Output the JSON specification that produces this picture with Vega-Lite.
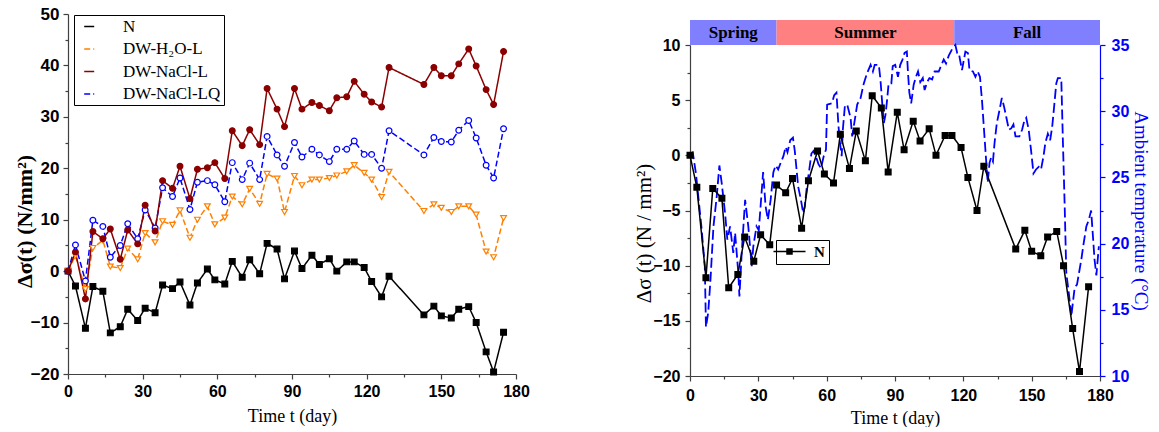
{
  "$schema": "https://vega.github.io/schema/vega-lite/v6.json",
  "background": "white",
  "padding": {"left": 13, "top": 5, "right": 8, "bottom": 0},
  "config": {
    "view": {"stroke": null},
    "axis": {
      "labelFont": "Liberation Sans", "labelFontWeight": "bold", "labelFontSize": 16, "labelColor": "black",
      "labelFlush": false, "labelOverlap": false,
      "titleFont": "Liberation Serif", "titleFontWeight": "normal", "titleFontSize": 18, "titleColor": "black",
      "domainColor": "#404040", "tickColor": "#404040", "domainWidth": 1.2, "tickWidth": 1.2,
      "tickSize": 5, "labelPadding": 4, "grid": false
    },
    "legend": {"labelFont": "Liberation Serif", "labelColor": "black"}
  },
  "datasets": {
    "stress": [
      {"day": 0, "series": "N", "value": 0}, {"day": 3, "series": "N", "value": -2.9}, {"day": 7, "series": "N", "value": -11.1},
      {"day": 10, "series": "N", "value": -3.0}, {"day": 14, "series": "N", "value": -3.9}, {"day": 17, "series": "N", "value": -12.0},
      {"day": 21, "series": "N", "value": -10.8}, {"day": 24, "series": "N", "value": -7.4}, {"day": 28, "series": "N", "value": -9.6},
      {"day": 31, "series": "N", "value": -7.2}, {"day": 35, "series": "N", "value": -8.1}, {"day": 38, "series": "N", "value": -2.7},
      {"day": 42, "series": "N", "value": -3.4}, {"day": 45, "series": "N", "value": -2.1}, {"day": 49, "series": "N", "value": -6.6},
      {"day": 52, "series": "N", "value": -2.3}, {"day": 56, "series": "N", "value": 0.4}, {"day": 59, "series": "N", "value": -1.7},
      {"day": 63, "series": "N", "value": -2.5}, {"day": 66, "series": "N", "value": 1.9}, {"day": 70, "series": "N", "value": -1.2},
      {"day": 73, "series": "N", "value": 2.2}, {"day": 77, "series": "N", "value": -0.5}, {"day": 80, "series": "N", "value": 5.4},
      {"day": 84, "series": "N", "value": 4.3}, {"day": 87, "series": "N", "value": -1.5}, {"day": 91, "series": "N", "value": 3.9},
      {"day": 94, "series": "N", "value": 0.5}, {"day": 98, "series": "N", "value": 3.1}, {"day": 101, "series": "N", "value": 1.3},
      {"day": 105, "series": "N", "value": 2.4}, {"day": 108, "series": "N", "value": 0.0}, {"day": 112, "series": "N", "value": 1.8},
      {"day": 115, "series": "N", "value": 1.8}, {"day": 119, "series": "N", "value": 0.7}, {"day": 122, "series": "N", "value": -2.0},
      {"day": 126, "series": "N", "value": -5.0}, {"day": 129, "series": "N", "value": -1.0}, {"day": 143, "series": "N", "value": -8.5},
      {"day": 147, "series": "N", "value": -6.8}, {"day": 150, "series": "N", "value": -8.7}, {"day": 154, "series": "N", "value": -9.1},
      {"day": 157, "series": "N", "value": -7.4}, {"day": 161, "series": "N", "value": -6.9}, {"day": 164, "series": "N", "value": -10.0},
      {"day": 168, "series": "N", "value": -15.7}, {"day": 171, "series": "N", "value": -19.6}, {"day": 175, "series": "N", "value": -11.9},

      {"day": 0, "series": "DW-H₂O-L", "value": 0}, {"day": 3, "series": "DW-H₂O-L", "value": 3.0}, {"day": 7, "series": "DW-H₂O-L", "value": -3.5},
      {"day": 10, "series": "DW-H₂O-L", "value": 4.5}, {"day": 14, "series": "DW-H₂O-L", "value": 6.0}, {"day": 17, "series": "DW-H₂O-L", "value": 0.9},
      {"day": 21, "series": "DW-H₂O-L", "value": 0.6}, {"day": 24, "series": "DW-H₂O-L", "value": 4.4}, {"day": 28, "series": "DW-H₂O-L", "value": 2.3},
      {"day": 31, "series": "DW-H₂O-L", "value": 7.4}, {"day": 35, "series": "DW-H₂O-L", "value": 5.6}, {"day": 38, "series": "DW-H₂O-L", "value": 9.7},
      {"day": 42, "series": "DW-H₂O-L", "value": 9.0}, {"day": 45, "series": "DW-H₂O-L", "value": 11.8}, {"day": 49, "series": "DW-H₂O-L", "value": 6.5},
      {"day": 52, "series": "DW-H₂O-L", "value": 10.0}, {"day": 56, "series": "DW-H₂O-L", "value": 12.6}, {"day": 59, "series": "DW-H₂O-L", "value": 9.1},
      {"day": 63, "series": "DW-H₂O-L", "value": 10.4}, {"day": 66, "series": "DW-H₂O-L", "value": 14.5}, {"day": 70, "series": "DW-H₂O-L", "value": 13.0},
      {"day": 73, "series": "DW-H₂O-L", "value": 16.0}, {"day": 77, "series": "DW-H₂O-L", "value": 13.1}, {"day": 80, "series": "DW-H₂O-L", "value": 18.9},
      {"day": 84, "series": "DW-H₂O-L", "value": 18.0}, {"day": 87, "series": "DW-H₂O-L", "value": 11.5}, {"day": 91, "series": "DW-H₂O-L", "value": 18.5},
      {"day": 94, "series": "DW-H₂O-L", "value": 16.7}, {"day": 98, "series": "DW-H₂O-L", "value": 17.8}, {"day": 101, "series": "DW-H₂O-L", "value": 17.8},
      {"day": 105, "series": "DW-H₂O-L", "value": 18.1}, {"day": 108, "series": "DW-H₂O-L", "value": 18.6}, {"day": 112, "series": "DW-H₂O-L", "value": 19.4},
      {"day": 115, "series": "DW-H₂O-L", "value": 20.6}, {"day": 119, "series": "DW-H₂O-L", "value": 19.1}, {"day": 122, "series": "DW-H₂O-L", "value": 17.8},
      {"day": 126, "series": "DW-H₂O-L", "value": 14.4}, {"day": 129, "series": "DW-H₂O-L", "value": 19.3}, {"day": 143, "series": "DW-H₂O-L", "value": 11.7},
      {"day": 147, "series": "DW-H₂O-L", "value": 13.0}, {"day": 150, "series": "DW-H₂O-L", "value": 12.3}, {"day": 154, "series": "DW-H₂O-L", "value": 11.5},
      {"day": 157, "series": "DW-H₂O-L", "value": 12.6}, {"day": 161, "series": "DW-H₂O-L", "value": 12.6}, {"day": 164, "series": "DW-H₂O-L", "value": 11.0},
      {"day": 168, "series": "DW-H₂O-L", "value": 3.8}, {"day": 171, "series": "DW-H₂O-L", "value": 2.7}, {"day": 175, "series": "DW-H₂O-L", "value": 10.3},

      {"day": 0, "series": "DW-NaCl-LQ", "value": 0}, {"day": 3, "series": "DW-NaCl-LQ", "value": 5.1}, {"day": 7, "series": "DW-NaCl-LQ", "value": -1.9},
      {"day": 10, "series": "DW-NaCl-LQ", "value": 9.9}, {"day": 14, "series": "DW-NaCl-LQ", "value": 8.7}, {"day": 17, "series": "DW-NaCl-LQ", "value": 2.7},
      {"day": 21, "series": "DW-NaCl-LQ", "value": 5.0}, {"day": 24, "series": "DW-NaCl-LQ", "value": 9.2}, {"day": 28, "series": "DW-NaCl-LQ", "value": 6.3},
      {"day": 31, "series": "DW-NaCl-LQ", "value": 11.9}, {"day": 35, "series": "DW-NaCl-LQ", "value": 8.4}, {"day": 38, "series": "DW-NaCl-LQ", "value": 16.2},
      {"day": 42, "series": "DW-NaCl-LQ", "value": 14.5}, {"day": 45, "series": "DW-NaCl-LQ", "value": 18.1}, {"day": 49, "series": "DW-NaCl-LQ", "value": 12.0},
      {"day": 52, "series": "DW-NaCl-LQ", "value": 17.3}, {"day": 56, "series": "DW-NaCl-LQ", "value": 17.6}, {"day": 59, "series": "DW-NaCl-LQ", "value": 16.8},
      {"day": 63, "series": "DW-NaCl-LQ", "value": 13.5}, {"day": 66, "series": "DW-NaCl-LQ", "value": 21.1}, {"day": 70, "series": "DW-NaCl-LQ", "value": 17.8},
      {"day": 73, "series": "DW-NaCl-LQ", "value": 21.0}, {"day": 77, "series": "DW-NaCl-LQ", "value": 17.8}, {"day": 80, "series": "DW-NaCl-LQ", "value": 26.2},
      {"day": 84, "series": "DW-NaCl-LQ", "value": 22.6}, {"day": 87, "series": "DW-NaCl-LQ", "value": 20.4}, {"day": 91, "series": "DW-NaCl-LQ", "value": 25.0},
      {"day": 94, "series": "DW-NaCl-LQ", "value": 22.2}, {"day": 98, "series": "DW-NaCl-LQ", "value": 23.7}, {"day": 101, "series": "DW-NaCl-LQ", "value": 22.6},
      {"day": 105, "series": "DW-NaCl-LQ", "value": 21.3}, {"day": 108, "series": "DW-NaCl-LQ", "value": 23.7}, {"day": 112, "series": "DW-NaCl-LQ", "value": 23.7},
      {"day": 115, "series": "DW-NaCl-LQ", "value": 25.3}, {"day": 119, "series": "DW-NaCl-LQ", "value": 22.7}, {"day": 122, "series": "DW-NaCl-LQ", "value": 22.7},
      {"day": 126, "series": "DW-NaCl-LQ", "value": 20.0}, {"day": 129, "series": "DW-NaCl-LQ", "value": 27.3}, {"day": 143, "series": "DW-NaCl-LQ", "value": 22.6},
      {"day": 147, "series": "DW-NaCl-LQ", "value": 26.0}, {"day": 150, "series": "DW-NaCl-LQ", "value": 25.2}, {"day": 154, "series": "DW-NaCl-LQ", "value": 25.1},
      {"day": 157, "series": "DW-NaCl-LQ", "value": 27.4}, {"day": 161, "series": "DW-NaCl-LQ", "value": 29.3}, {"day": 164, "series": "DW-NaCl-LQ", "value": 25.9},
      {"day": 168, "series": "DW-NaCl-LQ", "value": 20.6}, {"day": 171, "series": "DW-NaCl-LQ", "value": 18.1}, {"day": 175, "series": "DW-NaCl-LQ", "value": 27.7},

      {"day": 0, "series": "DW-NaCl-L", "value": 0}, {"day": 3, "series": "DW-NaCl-L", "value": 3.7}, {"day": 7, "series": "DW-NaCl-L", "value": -5.4},
      {"day": 10, "series": "DW-NaCl-L", "value": 7.7}, {"day": 14, "series": "DW-NaCl-L", "value": 6.3}, {"day": 17, "series": "DW-NaCl-L", "value": 8.2},
      {"day": 21, "series": "DW-NaCl-L", "value": 2.3}, {"day": 24, "series": "DW-NaCl-L", "value": 8.0}, {"day": 28, "series": "DW-NaCl-L", "value": 5.3},
      {"day": 31, "series": "DW-NaCl-L", "value": 12.8}, {"day": 35, "series": "DW-NaCl-L", "value": 7.8}, {"day": 38, "series": "DW-NaCl-L", "value": 17.6},
      {"day": 42, "series": "DW-NaCl-L", "value": 16.1}, {"day": 45, "series": "DW-NaCl-L", "value": 20.4}, {"day": 49, "series": "DW-NaCl-L", "value": 14.1},
      {"day": 52, "series": "DW-NaCl-L", "value": 19.8}, {"day": 56, "series": "DW-NaCl-L", "value": 20.1}, {"day": 59, "series": "DW-NaCl-L", "value": 21.1},
      {"day": 63, "series": "DW-NaCl-L", "value": 18.0}, {"day": 66, "series": "DW-NaCl-L", "value": 27.3}, {"day": 70, "series": "DW-NaCl-L", "value": 24.4},
      {"day": 73, "series": "DW-NaCl-L", "value": 27.5}, {"day": 77, "series": "DW-NaCl-L", "value": 24.6}, {"day": 80, "series": "DW-NaCl-L", "value": 35.5},
      {"day": 84, "series": "DW-NaCl-L", "value": 31.5}, {"day": 87, "series": "DW-NaCl-L", "value": 28.1}, {"day": 91, "series": "DW-NaCl-L", "value": 35.5},
      {"day": 94, "series": "DW-NaCl-L", "value": 31.5}, {"day": 98, "series": "DW-NaCl-L", "value": 32.8}, {"day": 101, "series": "DW-NaCl-L", "value": 32.2},
      {"day": 105, "series": "DW-NaCl-L", "value": 31.2}, {"day": 108, "series": "DW-NaCl-L", "value": 33.7}, {"day": 112, "series": "DW-NaCl-L", "value": 33.9},
      {"day": 115, "series": "DW-NaCl-L", "value": 36.9}, {"day": 119, "series": "DW-NaCl-L", "value": 34.4}, {"day": 122, "series": "DW-NaCl-L", "value": 32.9},
      {"day": 126, "series": "DW-NaCl-L", "value": 31.9}, {"day": 129, "series": "DW-NaCl-L", "value": 39.6}, {"day": 143, "series": "DW-NaCl-L", "value": 36.3},
      {"day": 147, "series": "DW-NaCl-L", "value": 39.6}, {"day": 150, "series": "DW-NaCl-L", "value": 38.0}, {"day": 154, "series": "DW-NaCl-L", "value": 38.0},
      {"day": 157, "series": "DW-NaCl-L", "value": 40.3}, {"day": 161, "series": "DW-NaCl-L", "value": 43.2}, {"day": 164, "series": "DW-NaCl-L", "value": 39.9},
      {"day": 168, "series": "DW-NaCl-L", "value": 35.3}, {"day": 171, "series": "DW-NaCl-L", "value": 32.4}, {"day": 175, "series": "DW-NaCl-L", "value": 42.7}
    ],
    "temp": [
      {"day": 0, "temp": 26.8}, {"day": 1.2, "temp": 26.9}, {"day": 2.6, "temp": 25.3}, {"day": 5, "temp": 21.3}, {"day": 6.5, "temp": 18.3},
      {"day": 7, "temp": 13.7}, {"day": 8, "temp": 14.8}, {"day": 9, "temp": 17.3}, {"day": 10.3, "temp": 21.3}, {"day": 11.7, "temp": 23.5},
      {"day": 12.9, "temp": 25.9}, {"day": 13.9, "temp": 24.6}, {"day": 15.4, "temp": 22.3}, {"day": 16.4, "temp": 20.3}, {"day": 17.6, "temp": 21.3},
      {"day": 19, "temp": 19.3}, {"day": 19.8, "temp": 20.8}, {"day": 21.2, "temp": 17.8}, {"day": 21.7, "temp": 16.0}, {"day": 22.7, "temp": 19.3},
      {"day": 24.2, "temp": 23.3}, {"day": 25.6, "temp": 21.3}, {"day": 27.1, "temp": 18.3}, {"day": 27.8, "temp": 19.8}, {"day": 29.2, "temp": 21.3},
      {"day": 30.2, "temp": 21.0}, {"day": 32.1, "temp": 25.4}, {"day": 33.2, "temp": 22.8}, {"day": 34.2, "temp": 21.8}, {"day": 35.4, "temp": 23.3},
      {"day": 36.6, "temp": 25.4}, {"day": 37.6, "temp": 25.9}, {"day": 38.7, "temp": 25.6}, {"day": 39.8, "temp": 26.1}, {"day": 41, "temp": 26.6},
      {"day": 42, "temp": 27.3}, {"day": 42.8, "temp": 26.9}, {"day": 44, "temp": 27.8}, {"day": 45.2, "temp": 28.0}, {"day": 46, "temp": 27.0},
      {"day": 47.5, "temp": 24.3}, {"day": 48.7, "temp": 23.3}, {"day": 49.7, "temp": 22.3}, {"day": 50.4, "temp": 22.8}, {"day": 51.3, "temp": 24.3},
      {"day": 52.3, "temp": 25.5}, {"day": 53.3, "temp": 26.8}, {"day": 54.2, "temp": 27.0}, {"day": 55.2, "temp": 26.6}, {"day": 56.4, "temp": 26.0},
      {"day": 57.5, "temp": 25.7}, {"day": 58.7, "temp": 26.6}, {"day": 59.7, "temp": 27.1}, {"day": 60.2, "temp": 30.5}, {"day": 62.3, "temp": 30.6},
      {"day": 63.3, "temp": 31.2}, {"day": 64.3, "temp": 31.4}, {"day": 65.1, "temp": 29.1}, {"day": 65.7, "temp": 27.8}, {"day": 66.6, "temp": 26.6},
      {"day": 67.1, "temp": 28.6}, {"day": 68, "temp": 30.4}, {"day": 69, "temp": 30.5}, {"day": 70.5, "temp": 29.5}, {"day": 71.2, "temp": 28.1},
      {"day": 72.4, "temp": 29.4}, {"day": 73.4, "temp": 30.5}, {"day": 74.9, "temp": 31.0}, {"day": 76.3, "temp": 32.1}, {"day": 77.8, "temp": 32.9},
      {"day": 79.3, "temp": 33.5}, {"day": 80.3, "temp": 33.0}, {"day": 81.1, "temp": 33.5}, {"day": 82.9, "temp": 33.5}, {"day": 83.6, "temp": 32.4},
      {"day": 84.3, "temp": 30.8}, {"day": 85.1, "temp": 29.1}, {"day": 85.8, "temp": 29.7}, {"day": 86.5, "temp": 30.8}, {"day": 87.2, "temp": 32.1},
      {"day": 88.4, "temp": 32.1}, {"day": 89, "temp": 33.4}, {"day": 90.1, "temp": 33.5}, {"day": 91.3, "temp": 32.6}, {"day": 92.3, "temp": 33.5},
      {"day": 93.3, "temp": 33.9}, {"day": 94.2, "temp": 34.4}, {"day": 95.2, "temp": 34.5}, {"day": 95.7, "temp": 32.9}, {"day": 96.3, "temp": 31.4},
      {"day": 97.1, "temp": 30.6}, {"day": 98.2, "temp": 32.0}, {"day": 99.2, "temp": 32.6}, {"day": 100.1, "temp": 33.0}, {"day": 101.1, "temp": 32.2},
      {"day": 102.2, "temp": 32.5}, {"day": 103, "temp": 31.6}, {"day": 104.1, "temp": 32.2}, {"day": 105.1, "temp": 32.5}, {"day": 106.3, "temp": 32.4},
      {"day": 107.4, "temp": 33.0}, {"day": 109.2, "temp": 33.0}, {"day": 110.4, "temp": 33.5}, {"day": 111.4, "temp": 33.9}, {"day": 112.4, "temp": 33.6},
      {"day": 113.6, "temp": 34.2}, {"day": 115.1, "temp": 34.7}, {"day": 116.5, "temp": 35.0}, {"day": 117.3, "temp": 34.4}, {"day": 118, "temp": 34.4},
      {"day": 119.4, "temp": 33.1}, {"day": 120.9, "temp": 34.5}, {"day": 122, "temp": 34.4}, {"day": 122.7, "temp": 33.1}, {"day": 124.2, "temp": 33.0},
      {"day": 125.3, "temp": 32.6}, {"day": 126.3, "temp": 33.0}, {"day": 127.3, "temp": 32.6}, {"day": 128.2, "temp": 30.8}, {"day": 129.2, "temp": 28.3},
      {"day": 130, "temp": 26.3}, {"day": 130.7, "temp": 24.6}, {"day": 131.5, "temp": 26.1}, {"day": 132.2, "temp": 26.5}, {"day": 133, "temp": 26.2},
      {"day": 133.7, "temp": 27.6}, {"day": 134.7, "temp": 29.1}, {"day": 135.9, "temp": 30.1}, {"day": 136.9, "temp": 31.0}, {"day": 137.8, "temp": 30.4},
      {"day": 138.8, "temp": 29.6}, {"day": 140, "temp": 28.6}, {"day": 141, "temp": 28.7}, {"day": 142, "temp": 29.0}, {"day": 142.9, "temp": 28.1},
      {"day": 144.6, "temp": 28.1}, {"day": 145.8, "temp": 28.6}, {"day": 146.8, "temp": 29.3}, {"day": 147.6, "temp": 29.5}, {"day": 148.7, "temp": 28.6},
      {"day": 149.7, "temp": 27.1}, {"day": 150.8, "temp": 25.3}, {"day": 151.9, "temp": 25.6}, {"day": 153.1, "temp": 25.8}, {"day": 154.1, "temp": 25.6},
      {"day": 155.2, "temp": 26.6}, {"day": 156, "temp": 27.6}, {"day": 157.1, "temp": 28.3}, {"day": 158.1, "temp": 27.8}, {"day": 159, "temp": 28.8},
      {"day": 160, "temp": 30.6}, {"day": 160.8, "temp": 32.1}, {"day": 161.5, "temp": 32.5}, {"day": 163, "temp": 32.5}, {"day": 163.7, "temp": 27.8},
      {"day": 164.5, "temp": 22.8}, {"day": 165.2, "temp": 17.8}, {"day": 166.7, "temp": 15.7}, {"day": 167.4, "temp": 14.5}, {"day": 168.2, "temp": 15.7},
      {"day": 168.9, "temp": 16.7}, {"day": 169.9, "temp": 16.9}, {"day": 170.8, "temp": 17.8}, {"day": 171.8, "temp": 18.8}, {"day": 172.8, "temp": 20.0},
      {"day": 174, "temp": 21.3}, {"day": 175.1, "temp": 21.8}, {"day": 176.1, "temp": 22.5}, {"day": 176.8, "temp": 20.8}, {"day": 177.6, "temp": 18.8},
      {"day": 178.4, "temp": 17.6}, {"day": 179.5, "temp": 19.8}
    ],
    "seasons": [
      {"season": "Spring", "start": 0, "end": 38},
      {"season": "Summer", "start": 38, "end": 116},
      {"season": "Fall", "start": 116, "end": 180}
    ]
  },
  "bounds": "flush",
  "spacing": 174,
  "resolve": {
    "scale": {"color": "independent", "fill": "independent", "stroke": "independent", "shape": "independent", "size": "independent", "strokeDash": "independent"}
  },
  "hconcat": [
    {
      "width": 448,
      "height": 360,
      "data": {"name": "stress"},
      "layer": [
        {
          "mark": {"type": "line", "strokeWidth": 1.5},
          "encoding": {
            "x": {"field": "day", "type": "quantitative", "scale": {"domain": [0, 180], "nice": false},
                  "axis": {"orient": "bottom", "values": [0, 30, 60, 90, 120, 150, 180], "title": "Time t (day)", "titlePadding": 8}},
            "y": {"field": "value", "type": "quantitative", "scale": {"domain": [-20, 50], "nice": false},
                  "axis": {"orient": "left", "values": [-20, -10, 0, 10, 20, 30, 40, 50], "title": "Δσ(t)  (N/mm²)",
                           "titleFontWeight": "bold", "titleFontSize": 22, "titlePadding": -6, "titleY": 207, "labelFontSize": 17}},
            "color": {"field": "series", "type": "nominal",
                      "scale": {"domain": ["N", "DW-H₂O-L", "DW-NaCl-L", "DW-NaCl-LQ"], "range": ["black", "#ff8000", "#8b0000", "#0000ff"]},
                      "legend": {
                        "title": null, "orient": "none", "legendX": 6, "legendY": 1,
                        "strokeColor": "black", "fillColor": "white", "padding": 3,
                        "symbolSize": 100, "symbolStrokeWidth": 1.5, "symbolOpacity": 1,
                        "symbolOffset": 3.7, "labelOffset": 25.3, "rowPadding": 4.5,
                        "labelFont": "Liberation Serif", "labelFontSize": 17, "labelFontWeight": "normal", "labelColor": "black"
                      }},
            "strokeDash": {"field": "series", "type": "nominal",
                           "scale": {"domain": ["N", "DW-H₂O-L", "DW-NaCl-L", "DW-NaCl-LQ"], "range": [[1, 0], [6, 3], [1, 0], [6, 3]]},
                           "legend": null}
          }
        },
        {
          "mark": {"type": "point", "strokeWidth": 1.2, "opacity": 1},
          "encoding": {
            "x": {"field": "day", "type": "quantitative", "scale": {"domain": [0, 180], "nice": false},
                  "axis": {"orient": "bottom", "values": [15, 45, 75, 105, 135, 165], "labels": false, "tickSize": 3, "domain": false, "title": null}},
            "y": {"field": "value", "type": "quantitative", "scale": {"domain": [-20, 50], "nice": false},
                  "axis": {"orient": "left", "values": [-15, -5, 5, 15, 25, 35, 45], "labels": false, "tickSize": 3, "domain": false, "title": null}},
            "size": {"field": "series", "type": "nominal",
                     "scale": {"domain": ["DW-NaCl-LQ", "DW-NaCl-L", "DW-H₂O-L", "N"], "range": [33, 33, 40, 25]},
                     "legend": null},
            "fill": {"field": "series", "type": "nominal",
                     "scale": {"domain": ["DW-NaCl-LQ", "DW-NaCl-L", "DW-H₂O-L", "N"], "range": ["white", "#8b0000", "white", "black"]},
                     "legend": null},
            "stroke": {"field": "series", "type": "nominal",
                       "scale": {"domain": ["DW-NaCl-LQ", "DW-NaCl-L", "DW-H₂O-L", "N"], "range": ["#0000ff", "#8b0000", "#ff8000", "black"]},
                       "legend": null},
            "shape": {"field": "series", "type": "nominal",
                      "scale": {"domain": ["DW-NaCl-LQ", "DW-NaCl-L", "DW-H₂O-L", "N"], "range": ["circle", "circle", "triangle-down", "square"]},
                      "legend": null}
          }
        },
        {
          "mark": {"type": "point", "opacity": 0},
          "encoding": {
            "x": {"field": "day", "type": "quantitative", "scale": {"domain": [0, 180], "nice": false}, "axis": null},
            "y": {"field": "value", "type": "quantitative", "scale": {"domain": [-20, 50], "nice": false}, "axis": null},
            "shape": {"field": "series", "type": "nominal",
                      "scale": {"domain": ["N", "DW-H₂O-L", "DW-NaCl-L", "DW-NaCl-LQ"],
                                "range": [
                                  "M-3.8,0H3.8M-0.5,-0.5H0.5V0.5H-0.5Z",
                                  "M-3.8,0H-2.6M-2,0H-0.8M0.8,0H2M2.6,0H3.8M-0.75,-0.55H0.75L0,0.75Z",
                                  "M-3.8,0H3.8M0.57,0.24L0.24,0.57L-0.24,0.57L-0.57,0.24L-0.57,-0.24L-0.24,-0.57L0.24,-0.57L0.57,-0.24Z",
                                  "M-3.8,0H-2.6M-2,0H-0.65M0.65,0H2M2.6,0H3.8M0.57,0.24L0.24,0.57L-0.24,0.57L-0.57,0.24L-0.57,-0.24L-0.24,-0.57L0.24,-0.57L0.57,-0.24Z"
                                ]},
                      "legend": {
                        "title": null, "orient": "none", "legendX": 6, "legendY": 1,
                        "strokeColor": "black", "fillColor": "white", "padding": 3,
                        "symbolSize": 100, "symbolStrokeWidth": 1.5, "symbolOpacity": 1,
                        "symbolOffset": 3.7, "labelOffset": 25.3, "rowPadding": 4.5,
                        "labelFont": "Liberation Serif", "labelFontSize": 17, "labelFontWeight": "normal", "labelColor": "black"
                      }},
            "fill": {"field": "series", "type": "nominal",
                     "scale": {"domain": ["N", "DW-H₂O-L", "DW-NaCl-L", "DW-NaCl-LQ"], "range": ["black", "white", "#8b0000", "white"]},
                     "legend": {
                       "title": null, "orient": "none", "legendX": 6, "legendY": 1,
                       "strokeColor": "black", "fillColor": "white", "padding": 3,
                       "symbolSize": 100, "symbolStrokeWidth": 1.5, "symbolOpacity": 1,
                       "symbolOffset": 3.7, "labelOffset": 25.3, "rowPadding": 4.5,
                       "labelFont": "Liberation Serif", "labelFontSize": 17, "labelFontWeight": "normal", "labelColor": "black"
                     }}
          }
        }
      ],
      "resolve": {"axis": {"x": "independent", "y": "independent"}}
    },
    {
      "bounds": "flush",
      "spacing": 0,
      "vconcat": [
        {
          "width": 410,
          "height": 6,
          "data": {"values": [{}]},
          "mark": {"type": "rule", "opacity": 0},
          "encoding": {}
        },
        {
          "width": 410,
          "height": 25,
          "data": {"name": "seasons"},
          "transform": [{"calculate": "(datum.start + datum.end) / 2", "as": "mid"}],
          "layer": [
            {
              "mark": {"type": "rect"},
              "encoding": {
                "x": {"field": "start", "type": "quantitative", "scale": {"domain": [0, 180], "nice": false}, "axis": null},
                "x2": {"field": "end"},
                "color": {"field": "season", "type": "nominal",
                          "scale": {"domain": ["Spring", "Summer", "Fall"], "range": ["#8080ff", "#ff8080", "#8080ff"]},
                          "legend": null}
              }
            },
            {
              "mark": {"type": "text", "font": "Liberation Serif", "fontWeight": "bold", "fontSize": 17, "color": "black"},
              "encoding": {
                "x": {"field": "mid", "type": "quantitative"},
                "text": {"field": "season"}
              }
            }
          ]
        },
        {
          "width": 410,
          "height": 331,
          "layer": [
            {
              "data": {"name": "temp"},
              "mark": {"type": "line", "color": "#0000ff", "strokeWidth": 1.8, "strokeDash": [10, 4]},
              "encoding": {
                "x": {"field": "day", "type": "quantitative", "scale": {"domain": [0, 180], "nice": false},
                      "axis": {"orient": "bottom", "values": [0, 30, 60, 90, 120, 150, 180], "title": "Time t (day)", "labelPadding": 6, "titlePadding": 6}},
                "y": {"field": "temp", "type": "quantitative", "scale": {"domain": [10, 35], "nice": false},
                      "axis": {"orient": "right", "values": [10, 15, 20, 25, 30, 35], "title": "Ambient temperature (°C)", "titleFontSize": 19, "titlePadding": 2,
                               "titleColor": "#0000ff", "labelColor": "#0000ff", "domainColor": "#0000ff", "tickColor": "#0000ff", "labelPadding": 6}}
              }
            },
            {
              "data": {"name": "temp"},
              "mark": {"type": "point", "opacity": 0},
              "encoding": {
                "x": {"field": "day", "type": "quantitative", "scale": {"domain": [0, 180], "nice": false}, "axis": null},
                "y": {"field": "temp", "type": "quantitative", "scale": {"domain": [10, 35], "nice": false},
                      "axis": {"orient": "right", "values": [12.5, 17.5, 22.5, 27.5, 32.5], "labels": false, "tickSize": 3, "domain": false, "title": null, "tickColor": "#0000ff"}}
              }
            },
            {
              "data": {"name": "stress"},
              "transform": [{"filter": "datum.series === 'N'"}],
              "mark": {"type": "line", "color": "black", "strokeWidth": 1.5},
              "encoding": {
                "x": {"field": "day", "type": "quantitative", "scale": {"domain": [0, 180], "nice": false}, "axis": null},
                "y": {"field": "value", "type": "quantitative", "scale": {"domain": [-20, 10], "nice": false},
                      "axis": {"orient": "left", "values": [-20, -15, -10, -5, 0, 5, 10], "title": "Δσ (t)  (N / mm²)", "titleFontSize": 21, "titleY": 188, "titlePadding": -2, "labelPadding": 5}}
              }
            },
            {
              "data": {"name": "stress"},
              "transform": [{"filter": "datum.series === 'N'"}],
              "mark": {"type": "point", "filled": true, "shape": "square", "size": 25, "fill": "black", "opacity": 1},
              "encoding": {
                "x": {"field": "day", "type": "quantitative", "scale": {"domain": [0, 180], "nice": false},
                      "axis": {"orient": "bottom", "values": [15, 45, 75, 105, 135, 165], "labels": false, "tickSize": 3, "domain": false, "title": null}},
                "y": {"field": "value", "type": "quantitative", "scale": {"domain": [-20, 10], "nice": false},
                      "axis": {"orient": "left", "values": [-17.5, -12.5, -7.5, -2.5, 2.5, 7.5], "labels": false, "tickSize": 3, "domain": false, "title": null}},
                "stroke": {"field": "series", "type": "nominal", "scale": {"domain": ["N"], "range": ["black"]},
                           "legend": {
                             "title": null, "orient": "none", "legendX": 86, "legendY": 226,
                             "strokeColor": "black", "fillColor": "white", "padding": 4,
                             "symbolType": "M-3.2,0H3.2M-0.5,-0.5H0.5V0.5H-0.5Z", "symbolSize": 100,
                             "symbolFillColor": "black", "symbolStrokeWidth": 1.5,
                             "symbolOffset": 2, "labelOffset": 17,
                             "labelFont": "Liberation Serif", "labelFontWeight": "bold", "labelFontSize": 15, "labelColor": "black"
                           }}
              }
            }
          ],
          "resolve": {"scale": {"y": "independent"}, "axis": {"x": "independent", "y": "independent"}}
        }
      ]
    }
  ]
}
